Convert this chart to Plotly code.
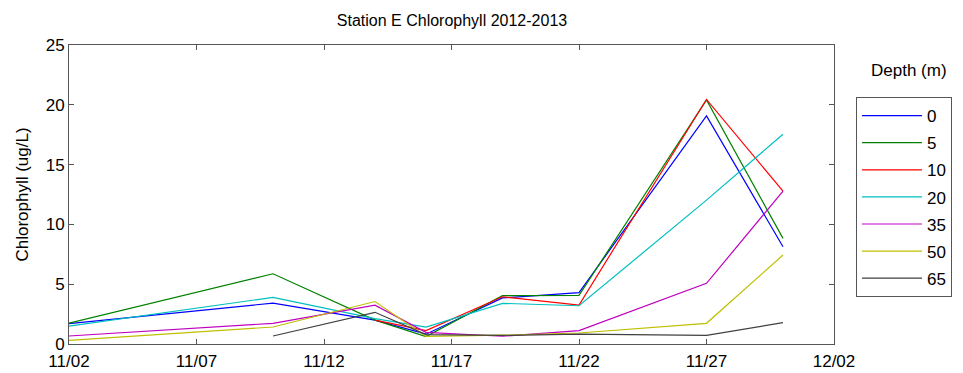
import plotly.graph_objects as go

dates = ["2012-11-02", "2012-11-10", "2012-11-14", "2012-11-16",
         "2012-11-19", "2012-11-22", "2012-11-27", "2012-11-30"]
depths = ["0", "5", "10", "20", "35", "50", "65"]

d0 = [1.7, 3.42, 2.0, 0.82, 3.85, 4.3, 19.07, 8.13]
d5 = [1.75, 5.87, 2.0, 0.62, 4.04, 4.07, 20.4, 8.83]
d10 = [None, None, 2.0, 1.12, 3.95, 3.26, 20.45, 12.78]
d20 = [1.5, 3.9, 2.12, 1.42, 3.4, 3.2, 12.03, 17.54]
d35 = [0.67, 1.73, 3.25, 0.97, 0.65, 1.12, 5.07, 12.78]
d50 = [0.3, 1.42, 3.55, 0.63, 0.74, 0.92, 1.73, 7.44]
d65 = [None, 0.67, 2.65, 0.78, 0.72, 0.82, 0.72, 1.78]

series = [d0, d5, d10, d20, d35, d50, d65]
colors = ["rgb(0,0,255)", "rgb(0,128,0)", "rgb(255,0,0)", "rgb(0,191,191)",
          "rgb(191,0,191)", "rgb(191,191,0)", "rgb(64,64,64)"]

xticks = ["2012-11-02", "2012-11-07", "2012-11-12", "2012-11-17",
          "2012-11-22", "2012-11-27", "2012-12-02"]
xticklabels = ["11/02", "11/07", "11/12", "11/17", "11/22", "11/27", "12/02"]

FONT = "Liberation Sans, Arial, Helvetica, sans-serif"

fig = go.Figure()
for name, vals, col in zip(depths, series, colors):
    fig.add_trace(go.Scatter(x=dates, y=vals, mode="lines", name=name,
                             legendgroup=name,
                             line=dict(color=col, width=1.2),
                             connectgaps=False))

axis_common = dict(showline=True, linecolor="#555555", linewidth=1, mirror="ticks",
                   ticks="inside", ticklen=5, tickcolor="#555555",
                   showgrid=False, zeroline=False, automargin=False,
                   tickfont=dict(family=FONT, size=17, color="black"))

fig.update_layout(
    width=963, height=373,
    margin=dict(l=69, r=128, t=45, b=29),
    paper_bgcolor="white", plot_bgcolor="white",
    font=dict(family=FONT, color="black"),
    title=dict(text="Station E Chlorophyll 2012-2013", x=(69 + 835) / 2 / 963,
               xanchor="center", y=1 - 20 / 373, yanchor="middle",
               font=dict(family=FONT, size=16, color="black")),
    xaxis=dict(type="date", range=["2012-11-02", "2012-12-02"],
               tickvals=xticks, ticktext=xticklabels, ticklabelstandoff=2,
               **axis_common),
    yaxis=dict(range=[0, 25], tickvals=[0, 5, 10, 15, 20, 25],
               title=dict(text="Chlorophyll (ug/L)", standoff=12,
                          font=dict(family=FONT, size=17, color="black")),
               **axis_common),
    legend=dict(x=1.0274, y=0.826, xanchor="left", yanchor="top",
                bordercolor="#555555", borderwidth=1, bgcolor="white",
                font=dict(family=FONT, size=17, color="black"),
                traceorder="grouped", tracegroupgap=2, itemwidth=60),
    showlegend=True,
)

fig.add_annotation(text="Depth (m)", xref="paper", yref="paper",
                   x=(910 - 69) / 766, y=(344 - 70) / 299,
                   xanchor="center", yanchor="middle", showarrow=False,
                   font=dict(family=FONT, size=17, color="black"))

fig.write_html("out.html")
